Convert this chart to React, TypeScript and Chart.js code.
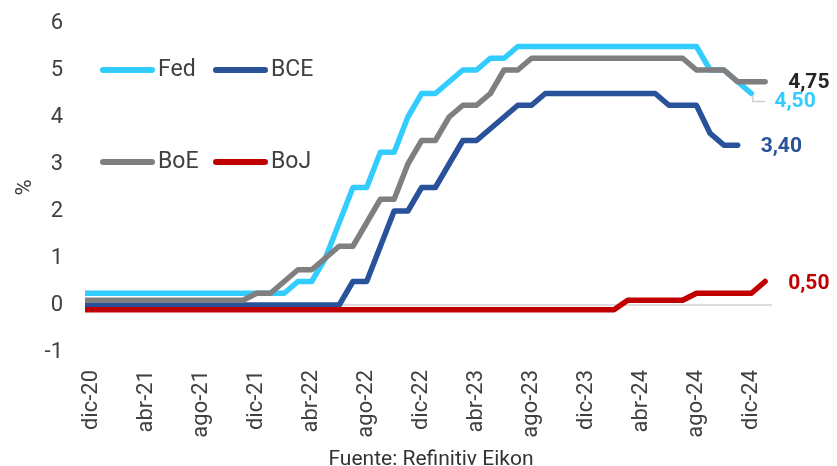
import { useEffect, useRef } from "react";
import { Chart, registerables } from "chart.js";

Chart.register(...registerables);

// Monthly observations, nov-20 ... ene-25 (nov-20 sits just left of the visible area)
const MONTHS = [
  "nov-20", "dic-20",
  "ene-21", "feb-21", "mar-21", "abr-21", "may-21", "jun-21", "jul-21", "ago-21", "sep-21", "oct-21", "nov-21", "dic-21",
  "ene-22", "feb-22", "mar-22", "abr-22", "may-22", "jun-22", "jul-22", "ago-22", "sep-22", "oct-22", "nov-22", "dic-22",
  "ene-23", "feb-23", "mar-23", "abr-23", "may-23", "jun-23", "jul-23", "ago-23", "sep-23", "oct-23", "nov-23", "dic-23",
  "ene-24", "feb-24", "mar-24", "abr-24", "may-24", "jun-24", "jul-24", "ago-24", "sep-24", "oct-24", "nov-24", "dic-24",
  "ene-25",
];

const X_TICK_LABELS = [
  "dic-20", "abr-21", "ago-21", "dic-21", "abr-22", "ago-22", "dic-22",
  "abr-23", "ago-23", "dic-23", "abr-24", "ago-24", "dic-24",
];

const FED = [
  0.25, 0.25,
  0.25, 0.25, 0.25, 0.25, 0.25, 0.25, 0.25, 0.25, 0.25, 0.25, 0.25, 0.25,
  0.25, 0.25, 0.5, 0.5, 1.0, 1.75, 2.5, 2.5, 3.25, 3.25, 4.0, 4.5,
  4.5, 4.75, 5.0, 5.0, 5.25, 5.25, 5.5, 5.5, 5.5, 5.5, 5.5, 5.5,
  5.5, 5.5, 5.5, 5.5, 5.5, 5.5, 5.5, 5.5, 5.0, 5.0, 4.75, 4.5,
  null,
];

const BCE = [
  0, 0,
  0, 0, 0, 0, 0, 0, 0, 0, 0, 0, 0, 0,
  0, 0, 0, 0, 0, 0, 0.5, 0.5, 1.25, 2.0, 2.0, 2.5,
  2.5, 3.0, 3.5, 3.5, 3.75, 4.0, 4.25, 4.25, 4.5, 4.5, 4.5, 4.5,
  4.5, 4.5, 4.5, 4.5, 4.5, 4.25, 4.25, 4.25, 3.65, 3.4, 3.4, null,
  null,
];

const BOE = [
  0.1, 0.1,
  0.1, 0.1, 0.1, 0.1, 0.1, 0.1, 0.1, 0.1, 0.1, 0.1, 0.1, 0.25,
  0.25, 0.5, 0.75, 0.75, 1.0, 1.25, 1.25, 1.75, 2.25, 2.25, 3.0, 3.5,
  3.5, 4.0, 4.25, 4.25, 4.5, 5.0, 5.0, 5.25, 5.25, 5.25, 5.25, 5.25,
  5.25, 5.25, 5.25, 5.25, 5.25, 5.25, 5.25, 5.0, 5.0, 5.0, 4.75, 4.75,
  4.75,
];

const BOJ = [
  -0.1, -0.1,
  -0.1, -0.1, -0.1, -0.1, -0.1, -0.1, -0.1, -0.1, -0.1, -0.1, -0.1, -0.1,
  -0.1, -0.1, -0.1, -0.1, -0.1, -0.1, -0.1, -0.1, -0.1, -0.1, -0.1, -0.1,
  -0.1, -0.1, -0.1, -0.1, -0.1, -0.1, -0.1, -0.1, -0.1, -0.1, -0.1, -0.1,
  -0.1, -0.1, 0.1, 0.1, 0.1, 0.1, 0.1, 0.25, 0.25, 0.25, 0.25, 0.25,
  0.5,
];

const SERIES_NAMES = ["Fed", "BCE", "BoE", "BoJ"];
const SERIES_VALUES = [FED, BCE, BOE, BOJ];
const END_LABELS = ["4,50", "3,40", "4,75", "0,50"];
const Y_MIN = -1;
const Y_MAX = 6;
const Y_TITLE = "%";
const SOURCE = "Fuente: Refinitiv Eikon";

// Styles
const COLORS = ["#33ccff", "#29529a", "#7f7f7f", "#c00000"];
const LABEL_COLORS = ["#33ccff", "#29529a", "#262626", "#c00000"];
const LABEL_DY = [8, 2, 1, 2];
const DRAW_ORDER = [4, 3, 2, 1];
const FONT = "Roboto";
const TEXT_COLOR = "#404040";
const LEGEND_POS = [
  [100, 70],
  [213, 70],
  [100, 162],
  [213, 162],
];

const legendPlugin = {
  id: "cornerLegend",
  afterDraw(chart: any) {
    const ctx = chart.ctx;
    ctx.save();
    chart.data.datasets.forEach((ds: any, i: number) => {
      const [x, y] = LEGEND_POS[i];
      ctx.strokeStyle = ds.borderColor;
      ctx.lineWidth = 6;
      ctx.lineCap = "round";
      ctx.beginPath();
      ctx.moveTo(x + 3, y);
      ctx.lineTo(x + 52, y);
      ctx.stroke();
      ctx.fillStyle = TEXT_COLOR;
      ctx.font = `23px ${FONT}`;
      ctx.textBaseline = "middle";
      ctx.textAlign = "left";
      ctx.fillText(ds.label, x + 58, y);
    });
    ctx.restore();
  },
};

const endLabelPlugin = {
  id: "endLabels",
  afterDatasetsDraw(chart: any) {
    const ctx = chart.ctx;
    ctx.save();
    chart.data.datasets.forEach((ds: any, i: number) => {
      const meta = chart.getDatasetMeta(i);
      let pt: any = null;
      for (let j = ds.data.length - 1; j >= 0; j--) {
        if (ds.data[j].y !== null && ds.data[j].y !== undefined) {
          pt = meta.data[j];
          break;
        }
      }
      if (!pt) return;
      const dy = LABEL_DY[i];
      if (dy > 4) {
        ctx.strokeStyle = "#cfcfcf";
        ctx.lineWidth = 1.5;
        ctx.lineCap = "butt";
        ctx.beginPath();
        ctx.moveTo(pt.x + 1.5, pt.y + 2);
        ctx.lineTo(pt.x + 1.5, pt.y + dy);
        ctx.lineTo(pt.x + 13.5, pt.y + dy);
        ctx.stroke();
      }
      ctx.fillStyle = LABEL_COLORS[i];
      ctx.font = `bold 21px ${FONT}`;
      ctx.textAlign = "left";
      ctx.textBaseline = "middle";
      ctx.fillText(END_LABELS[i], pt.x + 23, pt.y + dy);
    });
    ctx.restore();
  },
};

const sourcePlugin = {
  id: "sourceNote",
  afterDraw(chart: any) {
    const ctx = chart.ctx;
    ctx.save();
    ctx.fillStyle = "#333333";
    ctx.font = `21px ${FONT}`;
    ctx.textAlign = "center";
    ctx.textBaseline = "alphabetic";
    ctx.fillText(SOURCE, 431, 465);
    ctx.restore();
  },
};

export default function App() {
  const canvasRef = useRef<HTMLCanvasElement | null>(null);

  useEffect(() => {
    document.body.style.margin = "0";
    const canvas = canvasRef.current;
    if (!canvas) return;

    const tickValues = X_TICK_LABELS.map((l) => MONTHS.indexOf(l));

    const datasets = SERIES_NAMES.map((name, i) => ({
      label: name,
      data: SERIES_VALUES[i].map((v, k) => ({ x: k, y: v })),
      borderColor: COLORS[i],
      backgroundColor: COLORS[i],
      borderWidth: 5.5,
      borderCapStyle: "round" as const,
      borderJoinStyle: "round" as const,
      pointRadius: 0,
      pointHoverRadius: 0,
      tension: 0,
      spanGaps: false,
      order: DRAW_ORDER[i],
      clip: 0,
    }));

    const chart = new Chart(canvas, {
      type: "line",
      data: { datasets },
      options: {
        animation: false,
        responsive: false,
        events: [],
        layout: { padding: { top: 23, right: 65, bottom: 0, left: 0 } },
        plugins: {
          legend: { display: false },
          tooltip: { enabled: false },
        },
        scales: {
          x: {
            type: "linear",
            min: 0.5,
            max: MONTHS.length - 0.5,
            afterBuildTicks: (scale: any) => {
              scale.ticks = tickValues.map((v) => ({ value: v }));
            },
            afterFit: (scale: any) => {
              scale.height = 114;
              scale.paddingLeft = 0;
              scale.paddingRight = 0;
            },
            grid: { display: false, drawTicks: false },
            border: { display: false },
            ticks: {
              autoSkip: false,
              minRotation: 90,
              maxRotation: 90,
              padding: 18,
              color: TEXT_COLOR,
              font: { family: FONT, size: 22 },
              callback: (v: any) => MONTHS[v] ?? "",
            },
          },
          y: {
            min: Y_MIN,
            max: Y_MAX,
            afterFit: (scale: any) => {
              scale.width = 85;
              scale.paddingTop = 0;
              scale.paddingBottom = 0;
            },
            grid: {
              drawTicks: false,
              lineWidth: 2,
              color: (c: any) => (c.tick && c.tick.value === 0 ? "#dddddd" : "rgba(0,0,0,0)"),
            },
            border: { display: false },
            ticks: {
              stepSize: 1,
              padding: 22,
              color: TEXT_COLOR,
              font: { family: FONT, size: 22 },
            },
            title: {
              display: true,
              text: Y_TITLE,
              color: TEXT_COLOR,
              font: { family: FONT, size: 22 },
              padding: { top: 12, bottom: 0 },
            },
          },
        },
      },
      plugins: [legendPlugin, endLabelPlugin, sourcePlugin],
    });

    return () => chart.destroy();
  }, []);

  return (
    <div style={{ width: 837, height: 466, position: "relative", background: "#ffffff" }}>
      <canvas ref={canvasRef} width={837} height={466} />
    </div>
  );
}
